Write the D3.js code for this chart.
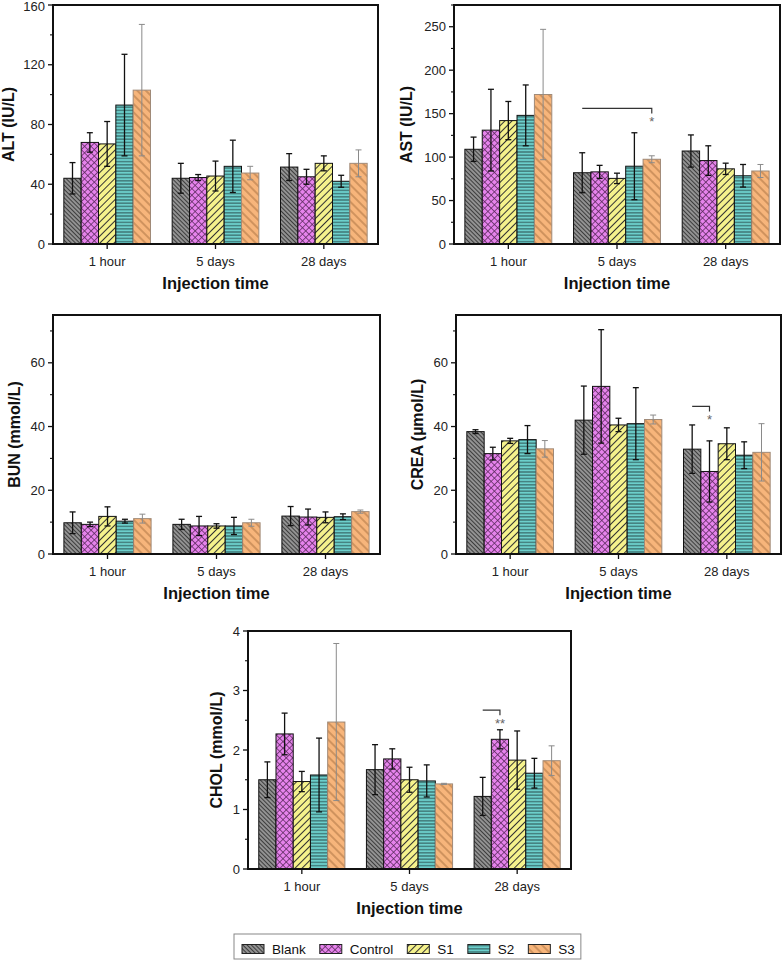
<!DOCTYPE html>
<html><head><meta charset="utf-8">
<script src="https://cdn.jsdelivr.net/npm/d3@7"></script>
<style>
body{margin:0;background:#fff}
svg{display:block}
text{font-family:Arial,"Liberation Sans",Helvetica,sans-serif}
</style>
</head><body>
<svg id="c" width="782" height="961"></svg>
<script>
// ---------- data ----------
const categories = ["1 hour", "5 days", "28 days"];
const groups = ["Blank", "Control", "S1", "S2", "S3"];

const altMean  = [[44, 68, 67, 93, 103], [44, 44.5, 45.5, 52, 47.5], [51.5, 45, 54, 42, 54]];
const altSD    = [[10.5, 6.5, 15, 34, 44], [10, 2, 10, 17.5, 4.5], [9, 5, 5, 4, 9]];
const astMean  = [[109, 131, 142, 148, 172], [82, 83, 75.5, 89.5, 97.5], [107, 96, 86.5, 78.5, 84]];
const astSD    = [[14, 47, 22, 35, 75], [23, 7.5, 6, 38.5, 4], [18.5, 17, 6.5, 13, 7.5]];
const bunMean  = [[9.8, 9.3, 11.8, 10.3, 11.1], [9.3, 8.8, 8.8, 8.8, 9.8], [11.9, 11.6, 11.5, 11.7, 13.3]];
const bunSD    = [[3.4, 0.7, 3, 0.6, 1.4], [1.6, 3, 0.7, 2.7, 1.1], [3, 2.5, 1.7, 0.9, 0.5]];
const creaMean = [[38.4, 31.5, 35.5, 35.9, 33], [42, 52.6, 40.5, 40.9, 42.2], [32.9, 25.9, 34.6, 31, 31.9]];
const creaSD   = [[0.6, 2, 0.8, 4.4, 2.6], [10.7, 17.8, 2.1, 11.3, 1.4], [7.6, 9.6, 5, 4.2, 9]];
const cholMean = [[1.5, 2.27, 1.47, 1.58, 2.47], [1.67, 1.85, 1.5, 1.48, 1.43], [1.22, 2.18, 1.83, 1.61, 1.82]];
const cholSD   = [[0.3, 0.35, 0.17, 0.62, 1.32], [0.42, 0.17, 0.21, 0.27, 0.01], [0.32, 0.16, 0.49, 0.25, 0.25]];

const altTicks  = [0, 40, 80, 120, 160];
const astTicks  = [0, 50, 100, 150, 200, 250];
const bunTicks  = [0, 20, 40, 60];
const creaTicks = [0, 20, 40, 60];
const cholTicks = [0, 1, 2, 3, 4];

// significance brackets: category, from bar, to bar, level, label
const astSig  = [{cat: 1, from: 0, to: 4, level: 156, label: "*"}];
const creaSig = [{cat: 2, from: 0, to: 1, level: 46.3, label: "*"}];
const cholSig = [{cat: 2, from: 0, to: 1, level: 2.67, label: "**"}];

// ---------- styles ----------
const styles = {
  Blank:   {bg: "#929292", line: "#2e2e2e", angle: 45,  gap: 3,   lw: 0.85, cross: false, stroke: "#111", err: "#111"},
  Control: {bg: "#e683ec", line: "#5a2a5c", angle: 45,  gap: 4.6, lw: 0.75, cross: true,  stroke: "#111", err: "#111"},
  S1:      {bg: "#f5f28c", line: "#333",    angle: -45, gap: 5,   lw: 1.0, cross: false, stroke: "#111", err: "#111"},
  S2:      {bg: "#6ccfcc", line: "#264848", angle: 0,   gap: 3.2, lw: 0.9, cross: false, stroke: "#111", err: "#111"},
  S3:      {bg: "#f7b57b", line: "#9b6436", angle: 45,  gap: 6,   lw: 0.85, cross: false, stroke: "#a08a78", err: "#8a8a8a"}
};

const svg = d3.select("#c");
const defs = svg.append("defs");
groups.forEach(g => {
  const s = styles[g];
  const p = defs.append("pattern")
    .attr("id", "pat-" + g)
    .attr("patternUnits", "userSpaceOnUse")
    .attr("width", s.gap).attr("height", s.gap)
    .attr("patternTransform", `rotate(${s.angle})`);
  p.append("rect").attr("width", s.gap).attr("height", s.gap).attr("fill", s.bg);
  p.append("line").attr("x1", 0).attr("x2", s.gap).attr("y1", s.gap / 2).attr("y2", s.gap / 2)
    .attr("stroke", s.line).attr("stroke-width", s.lw);
  if (s.cross) {
    p.append("line").attr("y1", 0).attr("y2", s.gap).attr("x1", s.gap / 2).attr("x2", s.gap / 2)
      .attr("stroke", s.line).attr("stroke-width", s.lw);
  }
});

const panels = [
  {mean: altMean,  sd: altSD,  ticks: altTicks,  minorStep: 20,  max: 160, label: "ALT (IU/L)",  sig: [],
   x0: 53,  x1: 378, y0: 5,   y1: 244, labelOff: 45},
  {mean: astMean,  sd: astSD,  ticks: astTicks,  minorStep: 25,  max: 275, label: "AST (IU/L)",  sig: astSig,
   x0: 454, x1: 780, y0: 5,   y1: 244, labelOff: 48},
  {mean: bunMean,  sd: bunSD,  ticks: bunTicks,  minorStep: 10,  max: 75,  label: "BUN (mmol/L)", sig: [],
   x0: 53,  x1: 380, y0: 315, y1: 554, labelOff: 39},
  {mean: creaMean, sd: creaSD, ticks: creaTicks, minorStep: 10,  max: 75,  label: "CREA (\u00b5mol/L)", sig: creaSig,
   x0: 456, x1: 781, y0: 315, y1: 554, labelOff: 39},
  {mean: cholMean, sd: cholSD, ticks: cholTicks, minorStep: 0.5, max: 4,   label: "CHOL (mmol/L)", sig: cholSig,
   x0: 248, x1: 571, y0: 631, y1: 869, labelOff: 32}
];

panels.forEach(P => {
  const g = svg.append("g");
  const x = d3.scaleBand().domain(categories).range([P.x0, P.x1]).paddingInner(0.2).paddingOuter(0.1);
  const xs = d3.scaleBand().domain(groups).range([0, x.bandwidth()]);
  const y = d3.scaleLinear().domain([0, P.max]).range([P.y1, P.y0]);

  // bars
  categories.forEach((c, ci) => {
    groups.forEach((gr, gi) => {
      const s = styles[gr];
      const m = P.mean[ci][gi];
      g.append("rect")
        .attr("x", x(c) + xs(gr)).attr("width", xs.bandwidth())
        .attr("y", y(m)).attr("height", y(0) - y(m))
        .attr("fill", `url(#pat-${gr})`).attr("stroke", s.stroke).attr("stroke-width", 1);
    });
  });
  // error bars
  categories.forEach((c, ci) => {
    groups.forEach((gr, gi) => {
      const s = styles[gr];
      const m = P.mean[ci][gi], e = P.sd[ci][gi];
      const cx = x(c) + xs(gr) + xs.bandwidth() / 2;
      const w = gr === "S3" ? 1 : 1.3;
      const eg = g.append("g").attr("stroke", s.err).attr("stroke-width", w);
      eg.append("line").attr("x1", cx).attr("x2", cx).attr("y1", y(m - e)).attr("y2", y(m + e));
      [m - e, m + e].forEach(v => {
        eg.append("line").attr("x1", cx - 3).attr("x2", cx + 3).attr("y1", y(v)).attr("y2", y(v));
      });
    });
  });

  // significance
  P.sig.forEach(sg => {
    const c = categories[sg.cat];
    const xa = x(c) + xs(groups[sg.from]) + xs.bandwidth() / 2;
    const xb = x(c) + xs(groups[sg.to]) + xs.bandwidth() / 2;
    const yl = y(sg.level);
    g.append("path").attr("d", `M${xa},${yl}H${xb}V${yl + 5}`)
      .attr("fill", "none").attr("stroke", "#333").attr("stroke-width", 1.2);
    g.append("text").attr("x", xb).attr("y", yl + 18).attr("text-anchor", "middle")
      .attr("font-size", 13).attr("fill", "#666").text(sg.label);
  });

  // y axis ticks (major + minor)
  const minor = d3.range(0, P.max + 1e-9, P.minorStep).filter(v => !P.ticks.some(t => Math.abs(t - v) < 1e-9));
  g.selectAll(null).data(P.ticks).join("line")
    .attr("x1", P.x0 - 5).attr("x2", P.x0).attr("y1", d => y(d)).attr("y2", d => y(d))
    .attr("stroke", "#111").attr("stroke-width", 1.3);
  g.selectAll(null).data(minor).join("line")
    .attr("x1", P.x0 - 3).attr("x2", P.x0).attr("y1", d => y(d)).attr("y2", d => y(d))
    .attr("stroke", "#111").attr("stroke-width", 1.1);
  g.selectAll(null).data(P.ticks).join("text")
    .attr("x", P.x0 - 8).attr("y", d => Math.max(y(d), 6.5)).attr("dy", "0.36em")
    .attr("text-anchor", "end").attr("font-size", 13).attr("fill", "#222")
    .text(d => d);

  // x ticks and labels
  g.selectAll(null).data(categories).join("line")
    .attr("x1", d => x(d) + x.bandwidth() / 2).attr("x2", d => x(d) + x.bandwidth() / 2)
    .attr("y1", P.y1).attr("y2", P.y1 + 5).attr("stroke", "#111").attr("stroke-width", 1.3);
  g.selectAll(null).data(categories).join("text")
    .attr("x", d => x(d) + x.bandwidth() / 2).attr("y", P.y1 + 22)
    .attr("text-anchor", "middle").attr("font-size", 13).attr("fill", "#222")
    .text(d => d);
  g.append("text").attr("x", (P.x0 + P.x1) / 2).attr("y", P.y1 + 45)
    .attr("text-anchor", "middle").attr("font-size", 16.5).attr("font-weight", "bold").attr("fill", "#111")
    .text("Injection time");

  // y label
  g.append("text")
    .attr("transform", `translate(${P.x0 - P.labelOff},${(P.y0 + P.y1) / 2}) rotate(-90)`)
    .attr("dy", "0.35em").attr("text-anchor", "middle")
    .attr("font-size", 16).attr("font-weight", "bold").attr("fill", "#111")
    .text(P.label);

  // frame
  g.append("rect").attr("x", P.x0).attr("y", P.y0).attr("width", P.x1 - P.x0).attr("height", P.y1 - P.y0)
    .attr("fill", "none").attr("stroke", "#111").attr("stroke-width", 2);
});

// ---------- legend ----------
const leg = svg.append("g");
const lx0 = 242, ly = 949, sw = 22, sh = 9;
let cur = lx0;
groups.forEach(gr => {
  const it = leg.append("g");
  it.append("rect").attr("x", cur).attr("y", ly - sh / 2).attr("width", sw).attr("height", sh)
    .attr("fill", `url(#pat-${gr})`).attr("stroke", "#222").attr("stroke-width", 1);
  const t = it.append("text").attr("x", cur + sw + 8).attr("y", ly).attr("dy", "0.36em")
    .attr("font-size", 13.5).attr("fill", "#111").text(gr);
  const tw = t.node().getComputedTextLength();
  cur = cur + sw + 8 + tw + 14;
});
const legRight = cur - 14 + 6;
leg.insert("rect", ":first-child").attr("x", 234).attr("y", 934).attr("width", legRight - 234).attr("height", 25)
  .attr("fill", "#fff").attr("stroke", "#888").attr("stroke-width", 1);
</script>
</body></html>
